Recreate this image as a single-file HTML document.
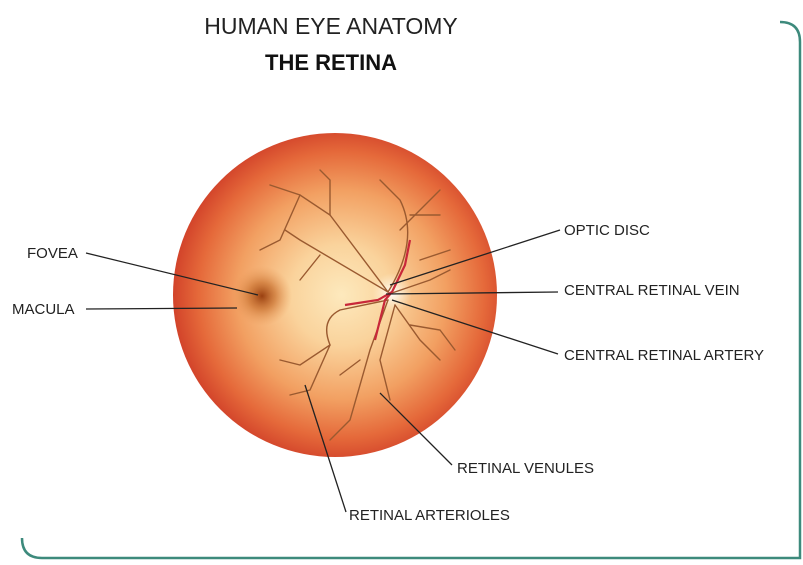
<!DOCTYPE html>
<html><head><style>
body{margin:0;width:803px;height:560px;background:#fff;overflow:hidden;font-family:"Liberation Sans",sans-serif}
</style></head><body>
<svg width="803" height="560" viewBox="0 0 803 560" xmlns="http://www.w3.org/2000/svg">
<defs>
<radialGradient id="g" cx="0.52" cy="0.5" r="0.52">
<stop offset="0" stop-color="#fde9bd"/>
<stop offset="0.3" stop-color="#fad39c"/>
<stop offset="0.62" stop-color="#f2a062"/>
<stop offset="0.85" stop-color="#e5693a"/>
<stop offset="1" stop-color="#d2432a"/>
</radialGradient>
<radialGradient id="f" cx="0.5" cy="0.5" r="0.5">
<stop offset="0" stop-color="#9a4010"/>
<stop offset="0.45" stop-color="#c8702f" stop-opacity="0.7"/>
<stop offset="1" stop-color="#e99a5a" stop-opacity="0"/>
</radialGradient>
<radialGradient id="d" cx="0.5" cy="0.5" r="0.5">
<stop offset="0" stop-color="#ffffff"/>
<stop offset="1" stop-color="#fff4dd" stop-opacity="0"/>
</radialGradient>
</defs>
<path d="M780 22 Q800 22 800 42 L800 558 L42 558 Q22 558 22 538" fill="none" stroke="#3d8a7c" stroke-width="2.5"/>
<circle cx="335" cy="295" r="162" fill="url(#g)"/>
<circle cx="262" cy="296" r="30" fill="url(#f)"/>
<circle cx="392" cy="293" r="20" fill="url(#d)"/>
<g fill="none" stroke="#9a5a30" stroke-width="1.4" stroke-linecap="round">
<path d="M388 292 L330 215 L300 195 L270 185"/>
<path d="M330 215 L330 180 L320 170"/>
<path d="M300 195 L280 240 L260 250"/>
<path d="M388 292 Q420 240 400 200 L380 180"/>
<path d="M400 230 L430 200 L440 190"/>
<path d="M410 215 L440 215"/>
<path d="M388 292 L300 240 L285 230"/>
<path d="M320 255 L300 280"/>
<path d="M388 300 L340 310 Q320 320 330 345 L300 365 L280 360"/>
<path d="M330 345 L310 390 L290 395"/>
<path d="M388 300 L370 350 L350 420 L330 440"/>
<path d="M395 305 L380 360 L390 400"/>
<path d="M395 305 L420 340 L440 360"/>
<path d="M410 325 L440 330 L455 350"/>
<path d="M392 293 L430 280 L450 270"/>
<path d="M420 260 L450 250"/>
<path d="M360 360 L340 375"/>
</g>
<g fill="none" stroke="#c8283a" stroke-width="2.2">
<path d="M392 292 L405 265 L410 240"/>
<path d="M392 292 L385 300 L375 340"/>
<path d="M392 292 L378 300 L345 305"/>
</g>
<g stroke="#222" stroke-width="1.3">
<line x1="86" y1="253" x2="258" y2="295"/>
<line x1="86" y1="309" x2="237" y2="308"/>
<line x1="560" y1="230" x2="390" y2="285"/>
<line x1="558" y1="292" x2="386" y2="294"/>
<line x1="558" y1="354" x2="392" y2="300"/>
<line x1="452" y1="465" x2="380" y2="393"/>
<line x1="346" y1="512" x2="305" y2="385"/>
</g>
<g font-size="15" fill="#222">
<text x="27" y="258">FOVEA</text>
<text x="12" y="314">MACULA</text>
<text x="564" y="235">OPTIC DISC</text>
<text x="564" y="295">CENTRAL RETINAL VEIN</text>
<text x="564" y="360">CENTRAL RETINAL ARTERY</text>
<text x="457" y="473">RETINAL VENULES</text>
<text x="349" y="520">RETINAL ARTERIOLES</text>
</g>
<text x="331" y="34" font-size="23" text-anchor="middle" fill="#222">HUMAN EYE ANATOMY</text>
<text x="331" y="70" font-size="22" font-weight="bold" text-anchor="middle" fill="#111">THE RETINA</text>
</svg>
</body></html>
